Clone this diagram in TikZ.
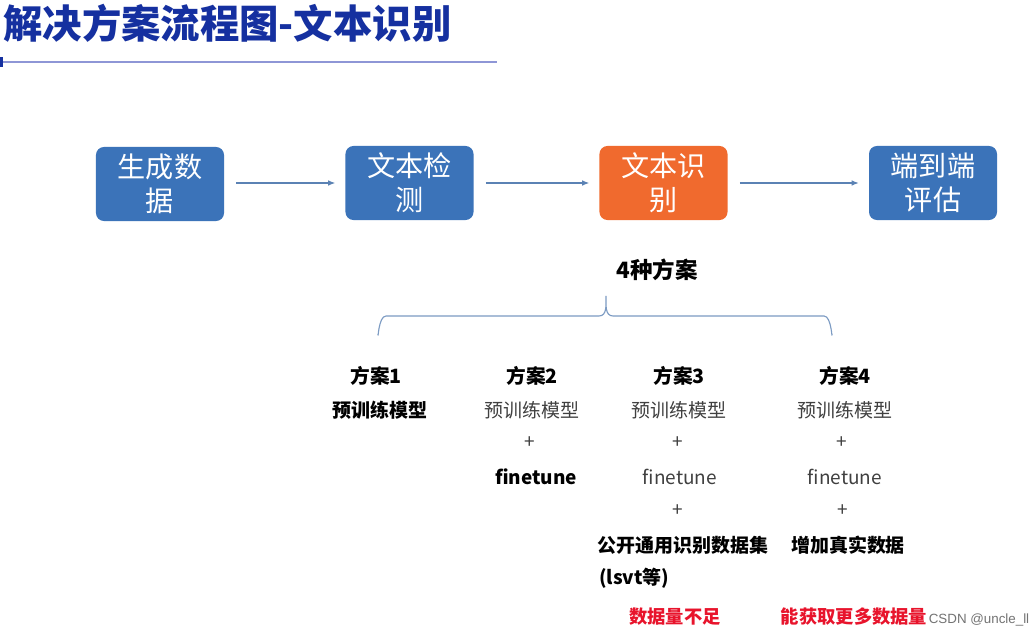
\documentclass[tikz,border=0pt]{standalone}
\usepackage{fontspec}
\setmainfont{Noto Sans CJK SC}
\newfontfamily\wmfont{Liberation Sans}
\usetikzlibrary{arrows.meta,positioning}
\definecolor{boxblue}{HTML}{3B73B9}
\definecolor{boxorange}{HTML}{F06A2E}
\definecolor{titleblue}{HTML}{1530A0}
\definecolor{lineblue}{HTML}{8E96D6}
\definecolor{arrowblue}{HTML}{5B82B4}
\definecolor{alertred}{HTML}{E8142C}

\begin{document}
\begin{tikzpicture}[x=0.025cm,y=-0.025cm,
  proc/.style={rectangle,fill=boxblue,rounded corners=0.2cm,minimum width=3.2cm,
    minimum height=1.85cm,text=white,align=center,inner sep=1pt,
    font=\fontsize{20}{24}\selectfont},
  arr/.style={arrowblue,line width=0.8pt,-{Latex[length=5pt,width=4pt]},
    shorten <=0.3cm,shorten >=0.25cm},
  head/.style={font=\bfseries\fontsize{14}{17}\selectfont},
  body/.style={font=\fontsize{13.5}{16}\selectfont,text=black!75},
  bbody/.style={font=\bfseries\fontsize{13.5}{16}\selectfont},
  note/.style={font=\bfseries\fontsize{13}{16}\selectfont,text=alertred}]

  \useasboundingbox[fill=white] (0,0) rectangle (1029,637);

  % Title
  \node[anchor=west,inner sep=0pt,text=titleblue,
    font=\bfseries\fontsize{28}{34}\selectfont] (title) at (3,23) {解决方案流程图-文本识别};
  \draw[lineblue,line width=1pt] (0,62) -- (497,62);
  \fill[titleblue] (0,57) rectangle (3,67);

  % Process boxes
  \node[proc] (gen) at (160,184) {生成数\\据};
  \node[proc] (det) at (409.5,183) {文本检\\测};
  \node[proc,fill=boxorange] (rec) at (663.5,183) {文本识\\别};
  \node[proc] (eval) at (933,183) {端到端\\评估};
  \foreach \a/\b in {gen/det,det/rec,rec/eval}
    \draw[arr] (\a.east |- \b) -- (\b);

  % Brace
  \node[font=\bfseries\fontsize{16}{19}\selectfont] (plans) at (657,270) {4种方案};
  \coordinate (bl) at (378,334);
  \coordinate (bt) at (606,296);
  \coordinate (br) at (832,334);
  \draw[arrowblue!80,line width=0.8pt] (bl) to[out=-90,in=180] (386,316) -- (599,316)
    to[out=0,in=-90] (bt) to[out=-90,in=180] (613,316) -- (824,316)
    to[out=0,in=-90] (br);

  % Plans
  \foreach \i/\x in {1/376,2/532,3/679,4/845}
    \node[head] (p\i) at (\x,376) {方案\i};

  \node[bbody] (m1) at (380,410) {预训练模型};

  \node[body] (m2) at (532,410) {预训练模型};
  \node[body] (a2) at (530,443) {+};
  \node[bbody] (f2) at (536,477) {finetune};

  \node[body] (m3) at (679,410) {预训练模型};
  \node[body] (a3) at (678,443) {+};
  \node[body] (f3) at (680,477) {finetune};
  \node[body] (b3) at (678,511) {+};
  \node[bbody] (d3) at (683,545) {公开通用识别数据集};
  \node[bbody,anchor=west,inner sep=0pt] (e3) at (599,578) {(lsvt等)};

  \node[body] (m4) at (845,410) {预训练模型};
  \node[body] (a4) at (842,443) {+};
  \node[body] (f4) at (845,477) {finetune};
  \node[body] (b4) at (843,511) {+};
  \node[bbody] (d4) at (848,545) {增加真实数据};

  % Notes
  \node[note] (n3) at (675,617) {数据量不足};
  \node[note] (n4) at (854,617) {能获取更多数据量};
  \node[font=\wmfont\fontsize{9.5}{11}\selectfont,text=black!55,
    inner sep=1pt] (wm) at (979,620) {CSDN @uncle\_ll};
\end{tikzpicture}
\end{document}
